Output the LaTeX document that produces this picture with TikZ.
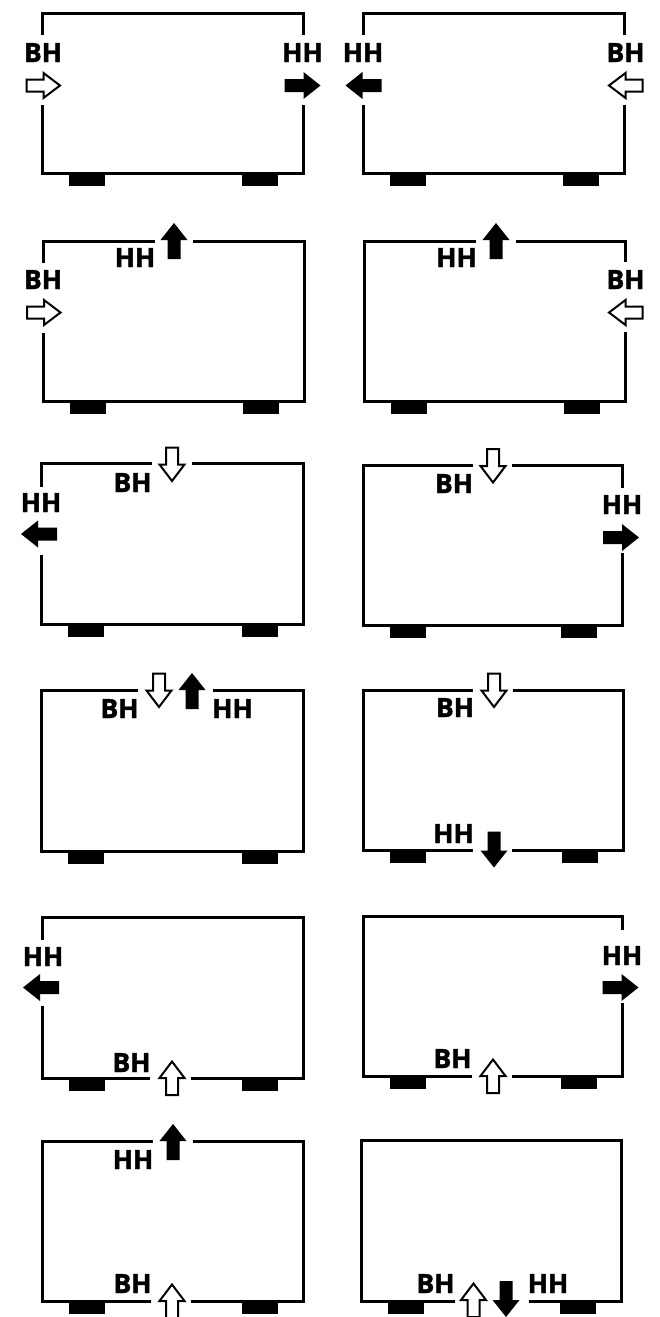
\documentclass[tikz,border=0pt]{standalone}
\usepackage{fontspec}
\setmainfont{Open Sans}[BoldFeatures={FakeBold=1.6}]
\begin{document}
\begin{tikzpicture}[x=1pt,y=-1pt,
  wall/.style={line width=3pt,line join=miter},
  lbl/.style={anchor=base,inner sep=0pt,font=\bfseries\fontsize{26.5}{30}\selectfont},
  farr/.pic={\fill (-18,-6.5) -- (1,-6.5) -- (1,-13.5) -- (18,0) -- (1,13.5) -- (1,6.5) -- (-18,6.5) -- cycle;},
  harr/.pic={\draw[line width=2pt,fill=white,line join=miter] (-17,-6) -- (0,-6) -- (0,-12.5) -- (16.5,0) -- (0,12.5) -- (0,6) -- (-17,6) -- cycle;}]
\useasboundingbox (0,0) rectangle (659,1317);
\newcommand\panelfeet[3]{%
  \fill (#1+27,#3) rectangle (#1+63,#3+13);
  \fill (#2-61,#3) rectangle (#2-25,#3+13);}
% ---------- Row 1 ----------
\draw[wall] (42,35) -- (42,13) -- (303,13) -- (303,35);
\draw[wall] (42,105) -- (42,173) -- (303,173) -- (303,105);
\panelfeet{42}{303}{173}
\node[lbl] (bh1) at (43,62) {BH};
\pic at (43.5,85.5) {harr};
\node[lbl] (hh1) at (302.5,62) {HH};
\pic at (302.5,85.5) {farr};
\draw[wall] (363,35) -- (363,13) -- (624,13) -- (624,35);
\draw[wall] (363,105) -- (363,173) -- (624,173) -- (624,105);
\panelfeet{363}{624}{173}
\node[lbl] (hh2) at (363,62) {HH};
\pic[rotate=180] at (363.5,85.5) {farr};
\node[lbl] (bh2) at (625.5,62) {BH};
\pic[rotate=180] at (625.5,85.5) {harr};
% ---------- Row 2 ----------
\draw[wall] (155,241) -- (43,241) -- (43,263);
\draw[wall] (43,333) -- (43,401) -- (304,401) -- (304,241) -- (193,241);
\panelfeet{43}{304}{401}
\pic[rotate=90] at (174,241) {farr};
\node[lbl] (hh3) at (135,267) {HH};
\node[lbl] (bh3) at (43,289) {BH};
\pic at (44,312.5) {harr};
\draw[wall] (476,241) -- (364,241) -- (364,401) -- (625,401) -- (625,332);
\draw[wall] (625,262) -- (625,241) -- (516,241);
\panelfeet{364}{625}{401}
\pic[rotate=90] at (496,241) {farr};
\node[lbl] (hh4) at (456.5,267) {HH};
\node[lbl] (bh4) at (625.5,289) {BH};
\pic[rotate=180] at (625.5,312.5) {harr};
% ---------- Row 3 ----------
\draw[wall] (152,463) -- (41,463) -- (41,487);
\draw[wall] (41,555) -- (41,624) -- (303,624) -- (303,463) -- (192,463);
\panelfeet{41}{303}{624}
\pic[rotate=-90] at (172,464.5) {harr};
\node[lbl] (bh5) at (132.5,492) {BH};
\node[lbl] (hh5) at (41,512) {HH};
\pic[rotate=180] at (39,534) {farr};
\draw[wall] (473,465) -- (363,465) -- (363,625) -- (622,625) -- (622,553);
\draw[wall] (622,488) -- (622,465) -- (512,465);
\panelfeet{363}{622}{625}
\pic[rotate=-90] at (493,466) {harr};
\node[lbl] (bh6) at (454,493) {BH};
\node[lbl] (hh6) at (622,514) {HH};
\pic at (621,537.5) {farr};
% ---------- Row 4 ----------
\draw[wall] (138,690) -- (41,690) -- (41,851) -- (303,851) -- (303,690) -- (213,690);
\panelfeet{41}{303}{851}
\pic[rotate=-90] at (159,690.5) {harr};
\pic[rotate=90] at (192,691) {farr};
\node[lbl] (bh7) at (119.5,718) {BH};
\node[lbl] (hh7) at (232.5,718) {HH};
\draw[wall] (473,690) -- (363,690) -- (363,850) -- (473,850);
\draw[wall] (513,690) -- (623,690) -- (623,850) -- (512,850);
\panelfeet{363}{623}{850}
\pic[rotate=-90] at (494,690.5) {harr};
\node[lbl] (bh8) at (455,717) {BH};
\pic[rotate=-90] at (494,849.5) {farr};
\node[lbl] (hh8) at (453.5,843) {HH};
% ---------- Row 5 ----------
\draw[wall] (42,940) -- (42,917) -- (303,917) -- (303,1078) -- (191,1078);
\draw[wall] (42,1006) -- (42,1078) -- (150,1078);
\panelfeet{42}{303}{1078}
\node[lbl] (hh9) at (43,966) {HH};
\pic[rotate=180] at (41,987.5) {farr};
\pic[rotate=90] at (172,1078) {harr};
\node[lbl] (bh9) at (131.5,1072) {BH};
\draw[wall] (622,930) -- (622,916) -- (363,916) -- (363,1076) -- (472,1076);
\draw[wall] (622,1003) -- (622,1076) -- (512,1076);
\panelfeet{363}{622}{1076}
\node[lbl] (hh10) at (622,965) {HH};
\pic at (620.5,987.5) {farr};
\pic[rotate=90] at (493,1076) {harr};
\node[lbl] (bh10) at (452.5,1068) {BH};
% ---------- Row 6 ----------
\draw[wall] (153,1141) -- (42,1141) -- (42,1301) -- (151,1301);
\draw[wall] (193,1141) -- (303,1141) -- (303,1301) -- (191,1301);
\panelfeet{42}{303}{1301}
\pic[rotate=90] at (173,1142) {farr};
\node[lbl] (hh11) at (133,1169) {HH};
\pic[rotate=90] at (172,1301) {harr};
\node[lbl] (bh11) at (132.5,1293) {BH};
\draw[wall] (455,1301) -- (361,1301) -- (361,1140) -- (621,1140) -- (621,1301) -- (529,1301);
\panelfeet{361}{621}{1301}
\pic[rotate=90] at (473.5,1300) {harr};
\pic[rotate=-90] at (506,1299) {farr};
\node[lbl] (bh12) at (435.5,1293) {BH};
\node[lbl] (hh12) at (548,1293) {HH};
\end{tikzpicture}
\end{document}
